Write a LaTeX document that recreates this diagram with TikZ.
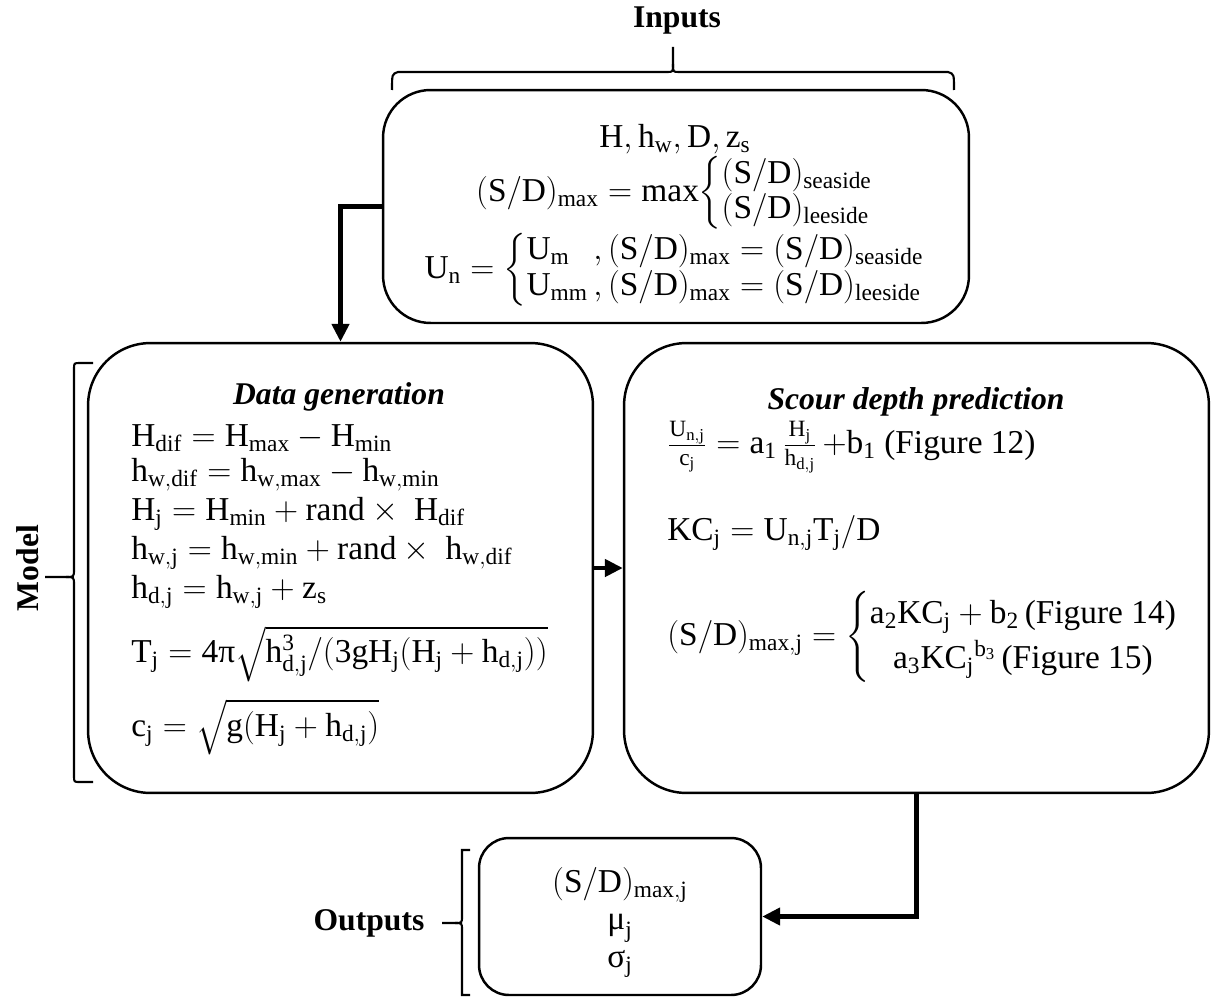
\RequirePackage{fix-cm}
\documentclass[tikz,border=0pt]{standalone}
\usepackage{amsmath}
\usepackage{fontspec}
\setmainfont{Liberation Serif}
\usetikzlibrary{arrows.meta}

\begin{document}
\begin{tikzpicture}[
  x=0.02cm, y=-0.02cm,
  box/.style={draw, line width=1.4pt, rounded corners=#1, inner sep=0pt},
  brace/.style={line width=1.2pt},
  flow/.style={line width=2.6pt, -{Triangle[length=0.36cm,width=0.34cm]}},
  lbl/.style={font=\fontsize{18}{20}\selectfont\bfseries},
  ttl/.style={font=\fontsize{18}{20}\selectfont\bfseries\itshape},
  eq/.style={font=\fontsize{19}{22}\selectfont, inner sep=0pt}
]
\useasboundingbox (0,0) rectangle (1212,997);

% Eingaben
\node[lbl] (inputs) at (677,21) {Inputs};
\draw[brace] (392,90) .. controls (392,74) .. (398,72) -- (667,72)
  .. controls (673,72) .. (673,64) -- (673,47);
\draw[brace] (954,90) .. controls (954,74) .. (948,72) -- (679,72)
  .. controls (673,72) .. (673,64);

\node[box=0.95cm, minimum width=11.72cm, minimum height=4.66cm] (inbox) at (676,206.5) {};
\node[eq] (in1) at (675,139) {$\mathrm{H, h_w, D, z_s}$};
\node[eq] (in2) at (675,193) {$\mathrm{(S/D)_{max}} = \mathrm{max}\!\left\{\renewcommand{\arraystretch}{0.85}\begin{array}{@{}l@{}}
  \mathrm{(S/D)_{seaside}}\\ \mathrm{(S/D)_{leeside}}\end{array}\right.$};
\node[eq] (in3) at (675,270) {$\mathrm{U_n} = \left\{\renewcommand{\arraystretch}{0.9}\begin{array}{@{}l@{\,}l@{}}
  \mathrm{U_m} & ,\mathrm{(S/D)_{max} = (S/D)_{seaside}}\\
  \mathrm{U_{mm}} & ,\mathrm{(S/D)_{max} = (S/D)_{leeside}}\end{array}\right.$};

% Modell
\draw[brace] (93,363) -- (80,363) .. controls (74,363) .. (74,369) -- (74,569)
  .. controls (74,577) .. (66,577) -- (45,577);
\draw[brace] (93,782) -- (80,782) .. controls (74,782) .. (74,776) -- (74,585)
  .. controls (74,577) .. (66,577);
\node[lbl, rotate=90] (model) at (28,568) {Model};

\node[box=1.25cm, minimum width=10.1cm, minimum height=9cm] (gen) at (340.5,568) {};
\node[ttl] (gentitle) at (339,397) {Data generation};
\node[eq, anchor=west] (g1) at (131,438) {$\mathrm{H_{dif} = H_{max} - H_{min}}$};
\node[eq, anchor=west] (g2) at (131,475) {$\mathrm{h_{w{,}dif} = h_{w{,}max} - h_{w{,}min}}$};
\node[eq, anchor=west] (g3) at (131,514) {$\mathrm{H_j = H_{min} + rand \times\ H_{dif}}$};
\node[eq, anchor=west] (g4) at (131,553) {$\mathrm{h_{w{,}j} = h_{w{,}min} + rand \times\ h_{w{,}dif}}$};
\node[eq, anchor=west] (g5) at (131,592) {$\mathrm{h_{d{,}j} = h_{w{,}j} + z_s}$};
\node[eq, anchor=west] (g6) at (131,654) {$\mathrm{T_j = 4}\text{π}\sqrt{\mathrm{h^3_{d{,}j}/(3gH_j(H_j + h_{d{,}j}))}}$};
\node[eq, anchor=west] (g7) at (131,727) {$\mathrm{c_j} = \sqrt{\mathrm{g(H_j + h_{d{,}j})}}$};

\node[box=1.25cm, minimum width=11.7cm, minimum height=9cm] (pred) at (916.5,568) {};
\node[ttl] (predtitle) at (916,402) {Scour depth prediction};
\node[eq, anchor=west] (p1) at (667,447) {$\frac{\mathrm{U_{n{,}j}}}{\mathrm{c_j}} = \mathrm{a_1}\,\frac{\mathrm{H_j}}{\mathrm{h_{d{,}j}}}\,\mathord{+}\mathrm{b_1}$ (Figure 12)};
\node[eq, anchor=west] (p2) at (667,533) {$\mathrm{KC_j = U_{n{,}j}T_j/D}$};
\node[eq, anchor=west] (p3) at (667,637) {$\mathrm{(S/D)_{max{,}j}} = \left\{\renewcommand{\arraystretch}{1.15}\begin{array}{@{}c@{}}
  \mathrm{a_2KC_j + b_2}\,\text{(Figure 14)}\\
  \mathrm{a_3KC_j}{}^{\mathrm{b_3}}\,\text{(Figure 15)}\end{array}\right.$};

% Ausgaben
\node[box=0.6cm, minimum width=5.64cm, minimum height=3.14cm] (outbox) at (620,916.5) {};
\node[eq] (o1) at (620,885) {$\mathrm{(S/D)_{max{,}j}}$};
\node[eq] (o2) at (620,928) {$\text{μ}_{\mathrm{j}}$};
\node[eq] (o3) at (620,964) {$\text{σ}_{\mathrm{j}}$};
\draw[brace] (470,850) -- (462,850) -- (462,916) .. controls (462,923) .. (455,923) -- (442,923);
\draw[brace] (470,995) -- (462,995) -- (462,930) .. controls (462,923) .. (455,923);
\node[lbl] (outputs) at (369,923) {Outputs};

% Pfeile
\draw[flow] (inbox.west) -| (gen.north);
\draw[flow] (gen.east) -- (pred.west);
\draw[flow] (pred.south) |- (outbox.east);

\end{tikzpicture}
\end{document}
